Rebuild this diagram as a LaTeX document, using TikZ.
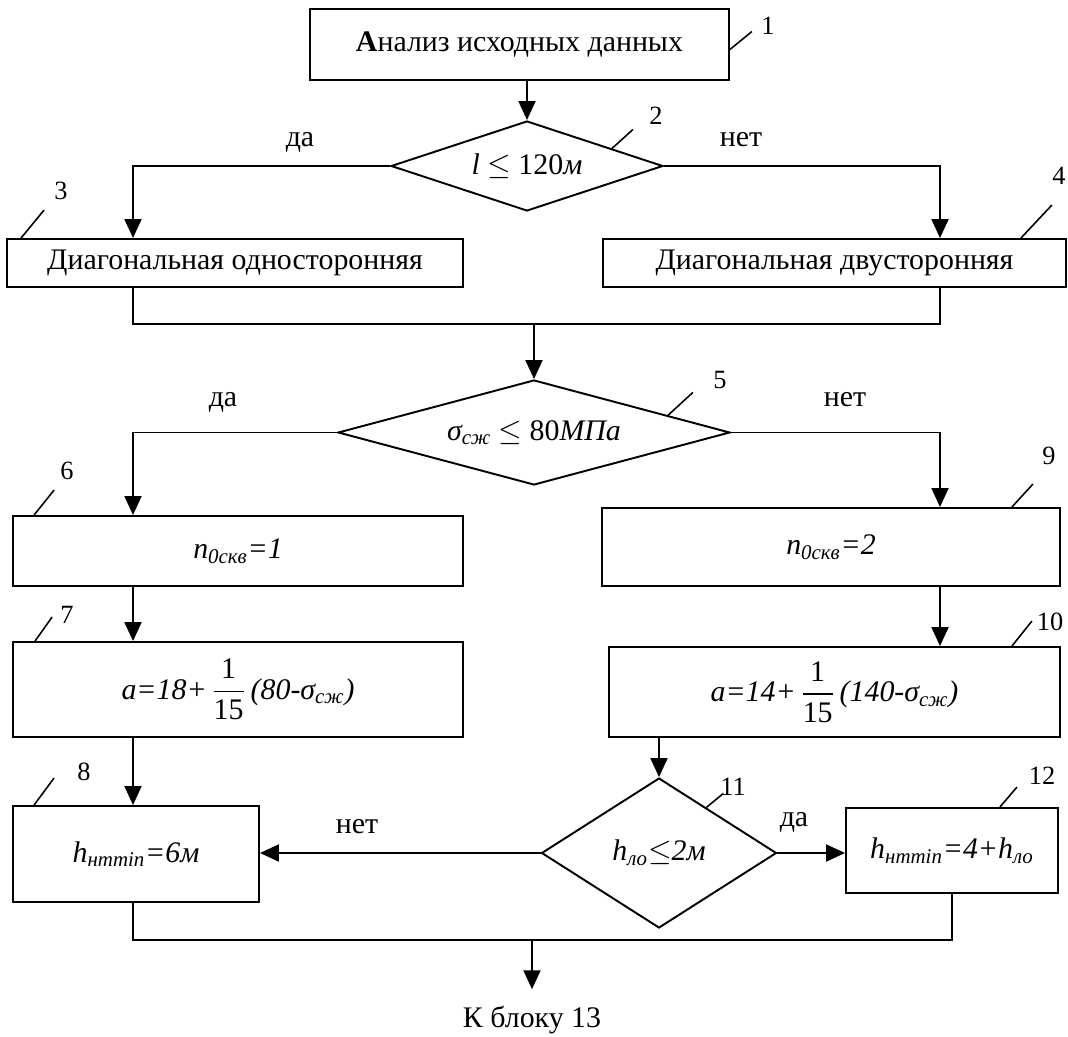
\documentclass[tikz,border=0pt]{standalone}
\usepackage{amsmath}
\usepackage{fontspec}
\setmainfont{Liberation Serif}
\usetikzlibrary{arrows.meta,shapes.geometric,calc}

\newcommand{\drob}[2]{$\dfrac{\mbox{#1}}{\mbox{#2}}$}

\begin{document}
\begin{tikzpicture}[x=0.02cm,y=-0.02cm,line width=1.1pt,
		box/.style={draw, rectangle, inner sep=0pt, font=\fontsize{17}{20}\selectfont},
		cond/.style={draw, diamond, inner sep=0pt, font=\fontsize{17}{20}\selectfont},
		arr/.style={-{Triangle[length=0.38cm,width=0.34cm]}},
		lead/.style={line width=0.9pt},
		num/.style={font=\fontsize{15}{18}\selectfont},
		ans/.style={font=\fontsize{17}{20}\selectfont}]

		\useasboundingbox (0,0) rectangle (1068,1037);

		% Columns of the branches
		\coordinate (L) at (133,0);
		\coordinate (R) at (940,0);

		% Blocks
		\node[box, minimum width=8.38cm, minimum height=1.42cm] (b1) at (519.5,44.5) {\textbf{А}нализ исходных данных};
		\node[cond, aspect=3.02, minimum width=5.44cm, minimum height=1.8cm] (d2) at (527,166) {\textit{l} $\leq$ 120\textit{м}};
		\node[box, minimum width=9.12cm, minimum height=0.96cm] (b3) at (235,263) {Диагональная односторонняя};
		\node[box, minimum width=9.26cm, minimum height=0.96cm] (b4) at (834.5,263) {Диагональная двусторонняя};
		\node[cond, aspect=3.73, minimum width=7.84cm, minimum height=2.1cm] (d5) at (534,432.5) {\textit{σ\textsubscript{сж}} $\leq$ 80\textit{МПа}};
		\node[box, minimum width=9cm, minimum height=1.4cm] (b6) at (238,551) {\textit{n\textsubscript{0скв}=1}};
		\node[box, minimum width=9cm, minimum height=1.9cm] (b7) at (238,689.5) {\textit{a=18+}\,\drob{1}{15}\,\textit{(80-σ\textsubscript{сж})}};
		\node[box, minimum width=4.92cm, minimum height=1.92cm] (b8) at (136,854) {\textit{h\textsubscript{нmmin}=6м}};
		\node[box, minimum width=9.16cm, minimum height=1.56cm] (b9) at (831,547) {\textit{n\textsubscript{0скв}=2}};
		\node[box, minimum width=9.02cm, minimum height=1.8cm] (b10) at (834.5,692) {\textit{a=14+}\,\drob{1}{15}\,\textit{(140-σ\textsubscript{сж})}};
		\node[cond, aspect=1.57, minimum width=4.7cm, minimum height=3cm] (d11) at (659,853) {\textit{h\textsubscript{ло}}$\leq$\textit{2м}};
		\node[box, minimum width=4.24cm, minimum height=1.7cm] (b12) at (952,850.5) {\textit{h\textsubscript{нmmin}=4+h\textsubscript{ло}}};
		\node[ans] (k13) at (532,1020) {К блоку 13};

		% Connections
		\draw[arr] (b1.south -| d2.north) -- (d2.north);
		\draw[arr] (d2.west) -| (b3.north -| L);
		\draw[arr] (d2.east) -| (b4.north -| R);
		\coordinate (m1) at (534,324);
		\draw (b3.south -| L) |- (m1) -| (b4.south -| R);
		\draw[arr] (m1) -- (d5.north);
		\draw[arr] (d5.west) -| (b6.north -| L);
		\draw[arr] (d5.east) -| (b9.north -| R);
		\draw[arr] (b6.south -| L) -- (b7.north -| L);
		\draw[arr] (b7.south -| L) -- (b8.north -| L);
		\draw[arr] (b9.south -| R) -- (b10.north -| R);
		\draw[arr] (b10.south -| d11.north) -- (d11.north);
		\draw[arr] (d11.west) -- (d11.west -| b8.east);
		\draw[arr] (d11.east) -- (d11.east -| b12.west);
		\coordinate (m2) at (532,940);
		\draw (b8.south -| L) |- (m2) -| (b12.south);
		\draw[arr, shorten >=0.2cm] (m2) -- (k13.north);

		% Answers
		\node[ans] (y2) at (300,142) {да};
		\node[ans] (n2) at (741,140) {нет};
		\node[ans] (y5) at (223,402) {да};
		\node[ans] (n5) at (845,400) {нет};
		\node[ans] (n11) at (357,827) {нет};
		\node[ans] (y11) at (794,822) {да};

		% Block numbers
		\node[num] (t1) at (768,26) {1};
		\node[num] (t2) at (656,116) {2};
		\node[num] (t3) at (61,191) {3};
		\node[num] (t4) at (1059,176) {4};
		\node[num] (t5) at (720,380) {5};
		\node[num] (t6) at (67,471) {6};
		\node[num] (t7) at (67,615) {7};
		\node[num] (t8) at (84,772) {8};
		\node[num] (t9) at (1049,456) {9};
		\node[num] (t10) at (1050,622) {10};
		\node[num] (t11) at (733,787) {11};
		\node[num] (t12) at (1042,776) {12};

		\draw[lead] (b1.east) ++(0,5) -- ++(22,-18);
		\draw[lead] ($(d2.north)!0.62!(d2.east)$) -- ++(21,-19);
		\draw[lead] (b3.north west) ++(15,0) -- ++(23,-28);
		\draw[lead] (b4.north east) ++(-46,0) -- ++(31,-33);
		\draw[lead] ($(d5.north)!0.68!(d5.east)$) -- ++(25,-23);
		\draw[lead] (b6.north west) ++(22,0) -- ++(20,-25);
		\draw[lead] (b7.north west) ++(23,0) -- ++(17,-24);
		\draw[lead] (b8.north west) ++(22,0) -- ++(20,-27);
		\draw[lead] (b9.north east) ++(-49,0) -- ++(21,-23);
		\draw[lead] (b10.north east) ++(-49,0) -- ++(20,-25);
		\draw[lead] ($(d11.north)!0.4!(d11.east)$) -- ++(17,-14);
		\draw[lead] (b12.north east) ++(-59,0) -- ++(17,-20);

	\end{tikzpicture}
\end{document}
